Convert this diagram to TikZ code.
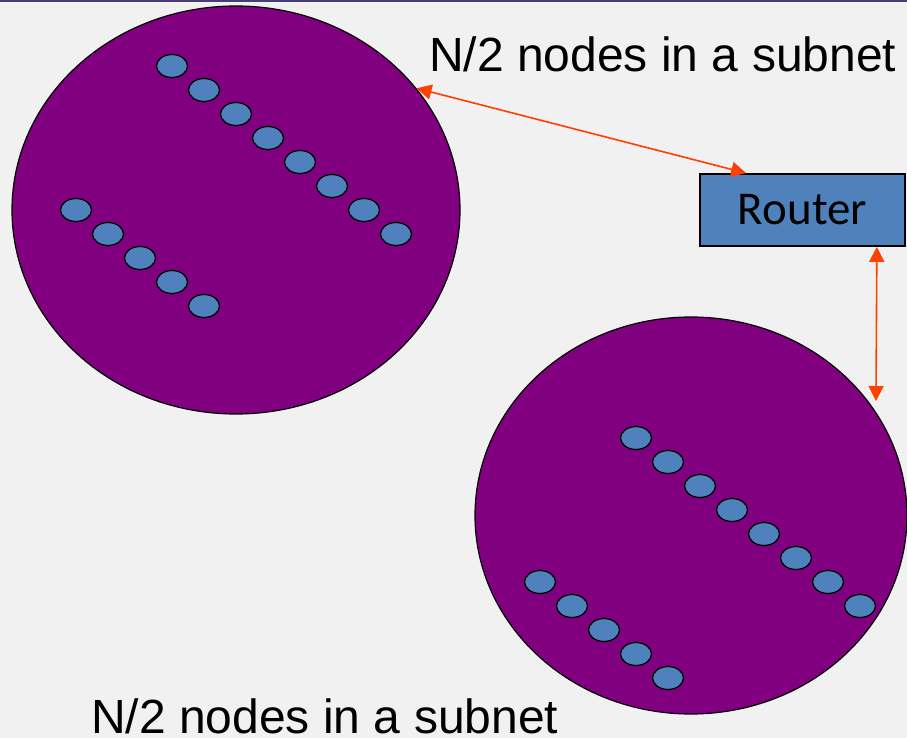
\documentclass[tikz,border=0pt]{standalone}
\usepackage{fontspec}
\setmainfont{Liberation Sans}
\newfontfamily\routerfont{Carlito}
\usetikzlibrary{shapes.geometric,arrows.meta}

\definecolor{bggray}{HTML}{F1F1F1}
\definecolor{barpurple}{HTML}{463E78}
\definecolor{netpurple}{HTML}{800080}
\definecolor{hostblue}{HTML}{4F81BD}
\definecolor{linkred}{HTML}{FF4000}

\begin{document}
\begin{tikzpicture}[x=1pt,y=-1pt]
	\tikzset{subnet/.style={ellipse,fill=netpurple,draw=black,line width=1.2pt,inner sep=0pt},
		host/.style={ellipse,fill=hostblue,draw=black,line width=1.3pt,inner sep=0pt,minimum width=31pt,minimum height=23pt},
		routerbox/.style={rectangle,fill=hostblue,draw=black,line width=1.7pt,minimum width=205pt,minimum height=72pt,font=\routerfont\fontsize{47}{56}\selectfont},
		nettext/.style={anchor=base west,inner sep=0pt,font=\fontsize{48}{56}\selectfont},
		link/.style={linkred,line width=1.6pt,{Triangle[length=15pt,width=15pt]}-{Triangle[length=15pt,width=15pt]}}}
	\def\dx{32} \def\dy{24}
	\path[use as bounding box,fill=bggray] (0,0) rectangle (907,738);
	\fill[barpurple] (0,0) rectangle (907,2.5);
	% the two subnets
	\node[subnet,minimum width=448pt,minimum height=408pt] (netA) at (236,210) {};
	\node[subnet,minimum width=432pt,minimum height=397pt] (netB) at (691,515.5) {};
	\foreach \i in {0,...,7}
	\node[host] (a\i) at ({172+\dx*\i},{66+\dy*\i}) {};
	\foreach \i in {0,...,4}
	\node[host] (b\i) at ({76+\dx*\i},{210+\dy*\i}) {};
	\foreach \i in {0,...,7}
	\node[host] (c\i) at ({636+\dx*\i},{438+\dy*\i}) {};
	\foreach \i in {0,...,4}
	\node[host] (d\i) at ({540+\dx*\i},{582+\dy*\i}) {};
	% router and links
	\node[routerbox] (router) at (802.5,210) {Router};
	\coordinate (tipB) at (876,401);
	\draw[link] (netA.34) -- ([xshift=47pt]router.north west);
	\draw[link] ([xshift=-29pt]router.south east) -- (tipB);
	\node[nettext] (textA) at (429,72) {N/2 nodes in a subnet};
	\node[nettext] (textB) at (91,733) {N/2 nodes in a subnet};
\end{tikzpicture}
\end{document}
